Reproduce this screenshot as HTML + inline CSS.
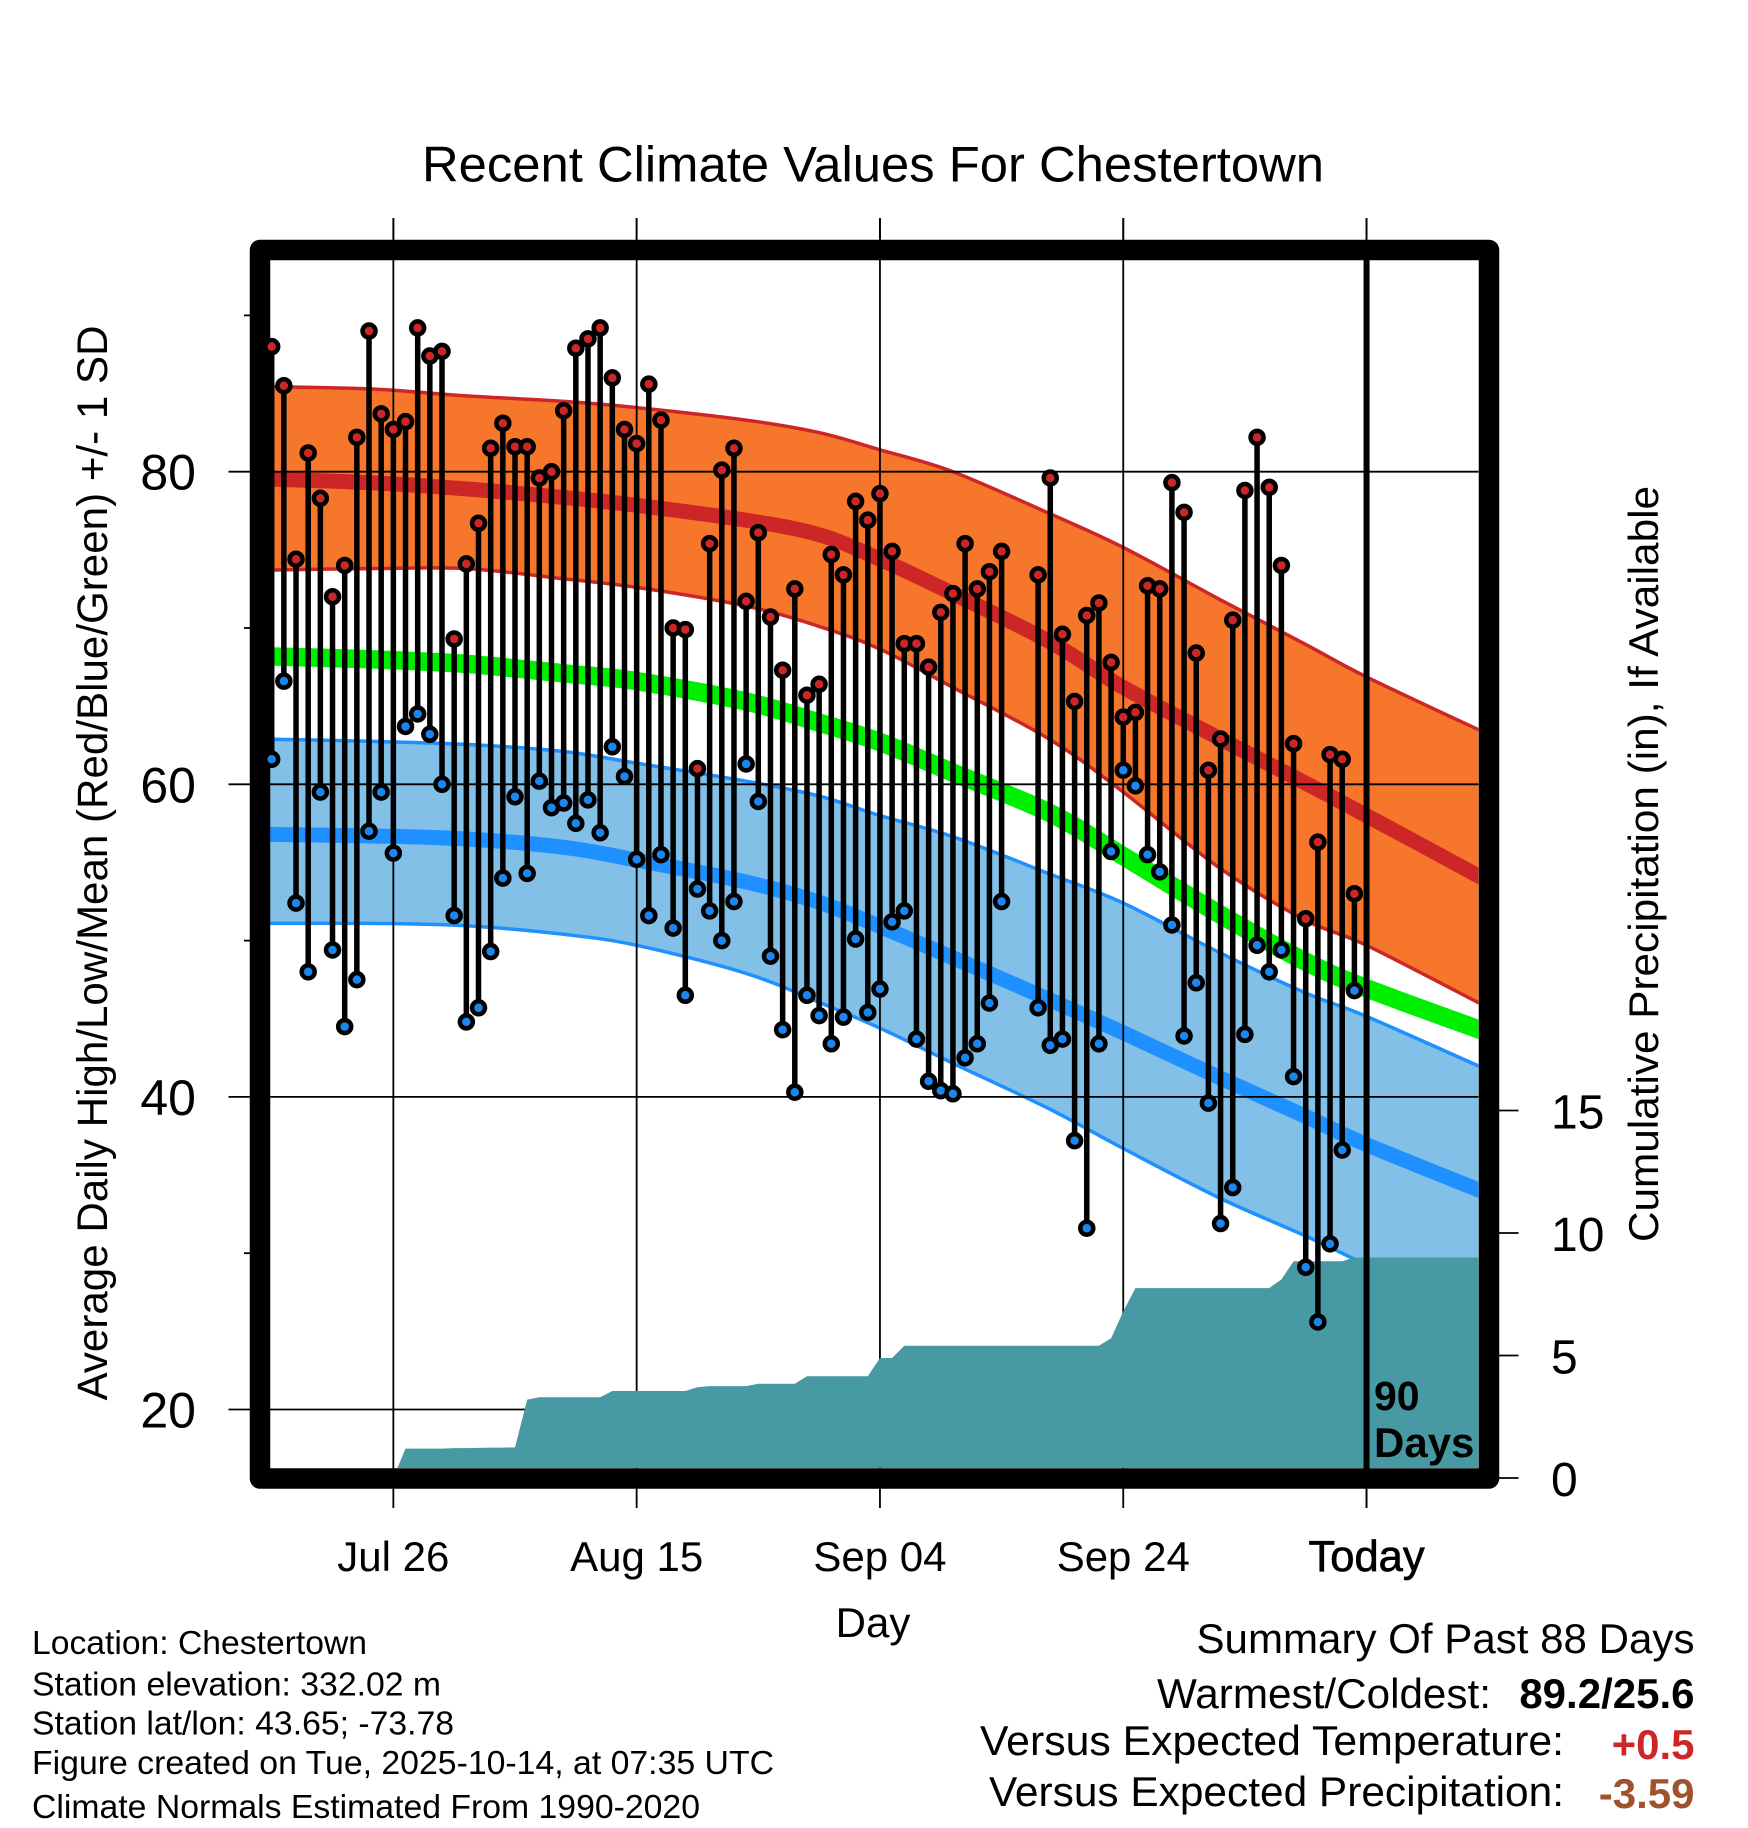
<!DOCTYPE html>
<html lang="en">
<head>
<meta charset="utf-8">
<title>Recent Climate Values For Chestertown</title>
<style>
html,body{margin:0;padding:0;background:#fff;width:1748px;height:1828px;overflow:hidden}
svg{display:block}
text{font-family:"Liberation Sans",Arial,sans-serif;fill:#000}
</style>
</head>
<body>
<svg id="chart" xmlns="http://www.w3.org/2000/svg" width="1748" height="1828" viewBox="0 0 1748 1828">
<defs><clipPath id="plot-clip"><rect x="268" y="260" width="1210.5" height="1208"/></clipPath></defs>
<rect x="0" y="0" width="1748" height="1828" fill="#fff"/>
<g id="bands" clip-path="url(#plot-clip)"></g>
<g id="grid"></g>
<g id="precip" clip-path="url(#plot-clip)"></g>
<rect x="260" y="250" width="1229" height="1228.5" fill="none" stroke="#000" stroke-width="20.5" stroke-linejoin="round"/>
<g id="ticks"></g>
<g id="temps"></g>
<g id="labels"></g>

<text x="873" y="181.5" font-size="50" text-anchor="middle" textLength="902" lengthAdjust="spacingAndGlyphs">Recent Climate Values For Chestertown</text>
<text transform="translate(107,863) rotate(-90)" font-size="43" text-anchor="middle" textLength="1075" lengthAdjust="spacingAndGlyphs">Average Daily High/Low/Mean (Red/Blue/Green) +/- 1 SD</text>
<text transform="translate(1658,864) rotate(-90)" font-size="42" text-anchor="middle" textLength="756" lengthAdjust="spacingAndGlyphs">Cumulative Precipitation (in), If Available</text>
<text x="873" y="1637" font-size="42" text-anchor="middle">Day</text>

<text x="1374" y="1410" font-size="41" font-weight="bold">90</text>
<text x="1374" y="1457" font-size="42" font-weight="bold">Days</text>

<text x="32" y="1654" font-size="33.5" textLength="335" lengthAdjust="spacingAndGlyphs">Location: Chestertown</text>
<text x="32" y="1695.5" font-size="33.5" textLength="409" lengthAdjust="spacingAndGlyphs">Station elevation: 332.02 m</text>
<text x="32" y="1734.5" font-size="33.5" textLength="422" lengthAdjust="spacingAndGlyphs">Station lat/lon: 43.65; -73.78</text>
<text x="32" y="1774" font-size="33.5" textLength="742" lengthAdjust="spacingAndGlyphs">Figure created on Tue, 2025-10-14, at 07:35 UTC</text>
<text x="32" y="1818" font-size="33.5" textLength="668" lengthAdjust="spacingAndGlyphs">Climate Normals Estimated From 1990-2020</text>

<text x="1694.5" y="1653" font-size="42" text-anchor="end" textLength="498" lengthAdjust="spacingAndGlyphs">Summary Of Past 88 Days</text>
<text x="1491" y="1708" font-size="42" text-anchor="end" textLength="334" lengthAdjust="spacingAndGlyphs">Warmest/Coldest:</text>
<text x="1694.5" y="1708" font-size="42" font-weight="bold" text-anchor="end">89.2/25.6</text>
<text x="1564" y="1755" font-size="42" text-anchor="end" textLength="584" lengthAdjust="spacingAndGlyphs">Versus Expected Temperature:</text>
<text x="1694.5" y="1759" font-size="42" font-weight="bold" text-anchor="end" style="fill:#cd2626">+0.5</text>
<text x="1564" y="1806" font-size="42" text-anchor="end" textLength="575" lengthAdjust="spacingAndGlyphs">Versus Expected Precipitation:</text>
<text x="1694.5" y="1808" font-size="42" font-weight="bold" text-anchor="end" style="fill:#a0522d">-3.59</text>
</svg>

<script>
// Daily observed values, index 0 = Jul 16; null = missing day
const highs = [88.0,85.5,74.4,81.2,78.3,72.0,74.0,82.2,89.0,83.7,82.7,83.2,89.2,87.4,87.7,69.3,74.1,76.7,81.5,83.1,81.6,81.6,79.6,80.0,83.9,87.9,88.5,89.2,86.0,82.7,81.8,85.6,83.3,70.0,69.9,61.0,75.4,80.1,81.5,71.7,76.1,70.7,67.3,72.5,65.7,66.4,74.7,73.4,78.1,76.9,78.6,74.9,69.0,69.0,67.5,71.0,72.2,75.4,72.5,73.6,74.9,null,null,73.4,79.6,69.6,65.3,70.8,71.6,67.8,64.3,64.6,72.7,72.5,79.3,77.4,68.4,60.9,62.9,70.5,78.8,82.2,79.0,74.0,62.6,51.4,56.3,61.9,61.6,53.0];
const lows = [61.6,66.6,52.4,48.0,59.5,49.4,44.5,47.5,57.0,59.5,55.6,63.7,64.5,63.2,60.0,51.6,44.8,45.7,49.3,54.0,59.2,54.3,60.2,58.5,58.8,57.5,59.0,56.9,62.4,60.5,55.2,51.6,55.5,50.8,46.5,53.3,51.9,50.0,52.5,61.3,58.9,49.0,44.3,40.3,46.5,45.2,43.4,45.1,50.1,45.4,46.9,51.2,51.9,43.7,41.0,40.4,40.2,42.5,43.4,46.0,52.5,null,null,45.7,43.3,43.7,37.2,31.6,43.4,55.7,60.9,59.9,55.5,54.4,51.0,43.9,47.3,39.6,31.9,34.2,44.0,49.7,48.0,49.4,41.3,29.1,25.6,30.6,36.6,46.8];

// Climate normals, sampled at these day indices
const normalDays = [-1,8,16,24,30,39,45,50,56,64,70,78,85,90,100];
const highUpper = [85.45,85.3,84.85,84.5,84.1,83.3,82.5,81.4,80.0,77.3,75.15,71.8,68.95,66.87,63.2];
const highLower = [73.7,73.8,73.8,73.15,72.6,71.4,70.1,68.65,66.2,62.85,59.5,54.6,51.3,49.7,45.7];
const highMean = [79.55,79.3,78.9,78.35,77.85,76.9,75.97,74.4,72.2,69.1,66.2,62.9,60.07,58.0,53.8];
const greenMean = [68.2,68.0,67.7,67.1,66.6,65.3,63.95,62.7,60.75,58.15,55.4,51.65,48.65,46.95,44.1];
const lowUpper = [62.9,62.75,62.55,62.1,61.35,60.2,59.25,58.0,56.65,54.25,52.4,49.2,46.65,45.15,41.7];
const lowMean = [56.8,56.7,56.5,55.97,55.15,53.75,52.45,50.9,48.9,46.2,44.1,41.2,38.75,36.95,33.8];
const lowLower = [51.1,51.1,50.95,50.4,49.7,47.9,46.05,44.4,42.15,39.2,36.7,33.5,31.1,29.25,25.6];

// Cumulative precipitation (inches) per day index
const precip = [0,0,0,0,0,0,0,0,0,0,0,1.2,1.2,1.2,1.2,1.22,1.22,1.23,1.24,1.24,1.25,3.2,3.3,3.3,3.3,3.3,3.3,3.3,3.55,3.55,3.55,3.55,3.55,3.55,3.55,3.7,3.75,3.75,3.75,3.75,3.85,3.85,3.85,3.85,4.15,4.15,4.15,4.15,4.15,4.15,4.9,4.9,5.4,5.4,5.4,5.4,5.4,5.4,5.4,5.4,5.4,5.4,5.4,5.4,5.4,5.4,5.4,5.4,5.4,5.7,6.8,7.75,7.75,7.75,7.75,7.75,7.75,7.75,7.75,7.75,7.75,7.75,7.75,8.1,8.85,8.85,8.85,8.85,8.85,9.0,9.0,9.0,9.0,9.0,9.0,9.0,9.0,9.0,9.0,9.0,9.0];

// Axis ticks and labels
const tempMajorTicks = [20,40,60,80];
const tempMinorTicks = [30,50,70,90];
const precipTicks = [0,5,10,15];
const dateTickDays = [10,30,50,70,90];
const dateTickLabels = ["Jul 26","Aug 15","Sep 04","Sep 24","Today"];
const todayDay = 90;

const NS = "http://www.w3.org/2000/svg";
const xScale = d => 271.7 + 12.165 * d;
const yScale = t => 471.7 - (t - 80) * 15.63;
const pScale = p => 1478 - p * 24.5;

function mk(parent, tag, attrs, txt) {
  const el = document.createElementNS(NS, tag);
  for (const k in attrs) el.setAttribute(k, attrs[k]);
  if (txt !== undefined) el.textContent = txt;
  parent.appendChild(el);
  return el;
}
const toPts = arr => arr.map((v, i) => [xScale(normalDays[i]), yScale(v)]);
function curveSegs(p) {
  let d = "";
  for (let i = 0; i < p.length - 1; i++) {
    const p0 = p[i - 1] || p[i], p1 = p[i], p2 = p[i + 1], p3 = p[i + 2] || p2;
    const c1x = p1[0] + (p2[0] - p0[0]) / 6, c1y = p1[1] + (p2[1] - p0[1]) / 6;
    const c2x = p2[0] - (p3[0] - p1[0]) / 6, c2y = p2[1] - (p3[1] - p1[1]) / 6;
    d += "C" + c1x.toFixed(1) + " " + c1y.toFixed(1) + " " + c2x.toFixed(1) + " " + c2y.toFixed(1) + " " + p2[0].toFixed(1) + " " + p2[1].toFixed(1);
  }
  return d;
}
function linePath(arr) {
  const p = toPts(arr);
  return "M" + p[0][0].toFixed(1) + " " + p[0][1].toFixed(1) + curveSegs(p);
}
function bandPath(up, lo) {
  const l = toPts(lo).reverse();
  return linePath(up) + "L" + l[0][0].toFixed(1) + " " + l[0][1].toFixed(1) + curveSegs(l) + "Z";
}

const bands = document.getElementById("bands");
let el;

el = mk(bands, "path", {d: bandPath(highUpper, highLower), fill: "#f6772b"});


el = mk(bands, "path", {d: linePath(highUpper), fill: "none", stroke: "#cd2626", "stroke-width": 3.5});


el = mk(bands, "path", {d: linePath(highLower), fill: "none", stroke: "#cd2626", "stroke-width": 3.5});


el = mk(bands, "path", {d: linePath(highMean), fill: "none", stroke: "#cd2626", "stroke-width": 15});


el = mk(bands, "path", {d: linePath(greenMean), fill: "none", stroke: "#00ee00", "stroke-width": 18.5});


el = mk(bands, "path", {d: bandPath(lowUpper, lowLower), fill: "#82c0e8"});


el = mk(bands, "path", {d: linePath(lowUpper), fill: "none", stroke: "#1e90ff", "stroke-width": 3.5});


el = mk(bands, "path", {d: linePath(lowLower), fill: "none", stroke: "#1e90ff", "stroke-width": 3.5});


el = mk(bands, "path", {d: linePath(lowMean), fill: "none", stroke: "#1e90ff", "stroke-width": 15});



const grid = document.getElementById("grid");
tempMajorTicks.forEach(t => {
  const g = mk(grid, "line", {x1: 228.5, x2: 1478.5, y1: yScale(t), y2: yScale(t), stroke: "#000", "stroke-width": 1.8});
  
  
});
dateTickDays.forEach(d => {
  const g = mk(grid, "line", {x1: xScale(d), x2: xScale(d), y1: 218, y2: 1508, stroke: "#000", "stroke-width": 1.8});
  
  
});

const precipPts = precip.map((p, i) => xScale(i).toFixed(1) + "," + pScale(p).toFixed(1));
precipPts.unshift(xScale(0).toFixed(1) + "," + pScale(0).toFixed(1));
precipPts.push(xScale(precip.length - 1).toFixed(1) + "," + pScale(0).toFixed(1));
el = mk(document.getElementById("precip"), "polygon", {points: precipPts.join(" "), fill: "#4799a4"});



const ticks = document.getElementById("ticks");
tempMinorTicks.forEach(t => {
  const g = mk(ticks, "line", {x1: 244, x2: 252, y1: yScale(t), y2: yScale(t), stroke: "#000", "stroke-width": 1.8});
  
  
});
precipTicks.forEach(p => {
  const g = mk(ticks, "line", {x1: 1496, x2: 1518.5, y1: pScale(p), y2: pScale(p), stroke: "#000", "stroke-width": 1.8});
  
  
});
el = mk(ticks, "line", {x1: xScale(dateTickDays[4]), x2: xScale(dateTickDays[4]), y1: 1480, y2: 1508, stroke: "#000", "stroke-width": 1.8});


dateTickDays.forEach(d => {
  const g = mk(ticks, "line", {x1: xScale(d), x2: xScale(d), y1: 218, y2: 240, stroke: "#000", "stroke-width": 1.8});
  
  
});

const temps = document.getElementById("temps");
el = mk(temps, "line", {x1: xScale(todayDay), x2: xScale(todayDay), y1: 250, y2: 1478, stroke: "#000", "stroke-width": 6});


highs.forEach((h, i) => {
  if (h === null || lows[i] === null) return;
  const b = mk(temps, "line", {x1: xScale(i), x2: xScale(i), y1: yScale(h), y2: yScale(lows[i]), stroke: "#000", "stroke-width": 5.5});
  
  
});
lows.forEach((l, i) => {
  if (l === null) return;
  const c = mk(temps, "circle", {cx: xScale(i), cy: yScale(l), r: 6.5, fill: "#1c86ee", stroke: "#000", "stroke-width": 4.5});
  
  
});
highs.forEach((h, i) => {
  if (h === null) return;
  const c = mk(temps, "circle", {cx: xScale(i), cy: yScale(h), r: 6.5, fill: "#cd2626", stroke: "#000", "stroke-width": 4.5});
  
  
});

const labels = document.getElementById("labels");
tempMajorTicks.forEach(t => {
  const a = mk(labels, "text", {x: 196, y: yScale(t) + 18, "font-size": 50, "text-anchor": "end"}, String(t));
  
  
});
precipTicks.forEach(p => {
  const a = mk(labels, "text", {x: 1551, y: pScale(p) + 18, "font-size": 48}, String(p));
  
  
});
dateTickLabels.forEach((s, i) => {
  const a = mk(labels, "text", {x: xScale(dateTickDays[i]), y: 1571, "font-size": s === "Today" ? 43.5 : 42, "text-anchor": "middle"}, s);
  
  
  if (s === "Today") a.setAttribute("style", "stroke:#000;stroke-width:.7");
});
</script>
</body>
</html>
